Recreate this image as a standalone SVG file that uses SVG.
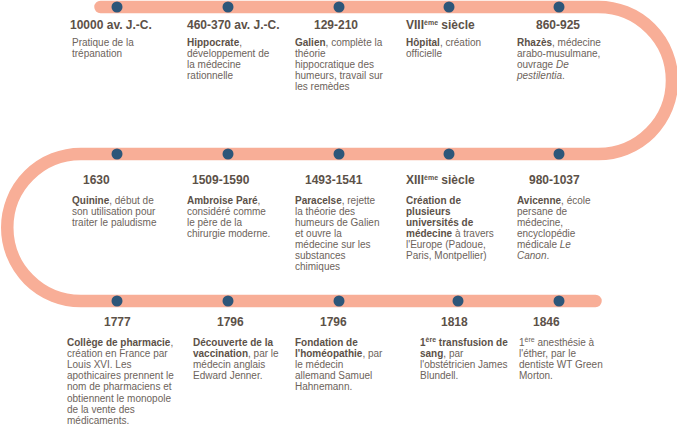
<svg xmlns="http://www.w3.org/2000/svg" width="677" height="433" viewBox="0 0 677 433">
  <style>
    text { font-family: "Liberation Sans", Arial, Helvetica, sans-serif; }
    .date { font-size: 12px; font-weight: bold; fill: #5c5148; }
    .desc { font-size: 10px; fill: #6d635b; }
    .b { font-weight: bold; fill: #5c5148; }
    .i { font-style: italic; }
    .sup { font-size: 7px; }
    .track { fill: none; stroke: #f8ae97; stroke-width: 12.5; stroke-linecap: round; }
    .dot { fill: #2d5679; }
  </style>

  <!-- serpentine timeline band -->
  <g id="connectors">
    <path class="track" d="M100.5 7 H598.5 A73.5 73.5 0 0 1 598.5 154 H80.75 A73.5 73.5 0 0 0 80.75 301 H595.5"/>
  </g>

  <!-- row 1 -->
  <g id="e-10000">
    <circle class="dot" cx="117" cy="7" r="5.5"/>
    <text class="date" x="70" y="29">10000 av. J.-C.</text>
    <text class="desc" x="72" y="46"><tspan x="72">Pratique de la</tspan><tspan x="72" dy="11.1">trépanation</tspan></text>
  </g>
  <g id="e-hippocrate">
    <circle class="dot" cx="228" cy="7" r="5.5"/>
    <text class="date" x="187" y="29">460-370 av. J.-C.</text>
    <text class="desc" x="187" y="46"><tspan x="187"><tspan class="b">Hippocrate</tspan>,</tspan><tspan x="187" dy="11.1">développement de</tspan><tspan x="187" dy="11.1">la médecine</tspan><tspan x="187" dy="11.1">rationnelle</tspan></text>
  </g>
  <g id="e-galien">
    <circle class="dot" cx="339" cy="7" r="5.5"/>
    <text class="date" x="314" y="29">129-210</text>
    <text class="desc" x="295" y="46"><tspan x="295"><tspan class="b">Galien</tspan>, complète la</tspan><tspan x="295" dy="11.1">théorie</tspan><tspan x="295" dy="11.1">hippocratique des</tspan><tspan x="295" dy="11.1">humeurs, travail sur</tspan><tspan x="295" dy="11.1">les remèdes</tspan></text>
  </g>
  <g id="e-hopital">
    <circle class="dot" cx="449" cy="7" r="5.5"/>
    <text class="date" x="406" y="29">VIII<tspan class="sup" dy="-4">ème</tspan><tspan dy="4"> siècle</tspan></text>
    <text class="desc" x="406" y="46"><tspan x="406"><tspan class="b">Hôpital</tspan>, création</tspan><tspan x="406" dy="11.1">officielle</tspan></text>
  </g>
  <g id="e-rhazes">
    <circle class="dot" cx="559" cy="7" r="5.5"/>
    <text class="date" x="536" y="29">860-925</text>
    <text class="desc" x="517" y="46"><tspan x="517"><tspan class="b">Rhazès</tspan>, médecine</tspan><tspan x="517" dy="11.1">arabo-musulmane,</tspan><tspan x="517" dy="11.1">ouvrage <tspan class="i">De</tspan></tspan><tspan x="517" dy="11.1"><tspan class="i">pestilentia</tspan>.</tspan></text>
  </g>

  <!-- row 2 -->
  <g id="e-quinine">
    <circle class="dot" cx="117" cy="154" r="5.5"/>
    <text class="date" x="83" y="184">1630</text>
    <text class="desc" x="72" y="203.5"><tspan x="72"><tspan class="b">Quinine</tspan>, début de</tspan><tspan x="72" dy="11.1">son utilisation pour</tspan><tspan x="72" dy="11.1">traiter le paludisme</tspan></text>
  </g>
  <g id="e-pare">
    <circle class="dot" cx="228" cy="154" r="5.5"/>
    <text class="date" x="192" y="184">1509-1590</text>
    <text class="desc" x="187" y="203.5"><tspan x="187"><tspan class="b">Ambroise Paré</tspan>,</tspan><tspan x="187" dy="11.1">considéré comme</tspan><tspan x="187" dy="11.1">le père de la</tspan><tspan x="187" dy="11.1">chirurgie moderne.</tspan></text>
  </g>
  <g id="e-paracelse">
    <circle class="dot" cx="339" cy="154" r="5.5"/>
    <text class="date" x="305" y="184">1493-1541</text>
    <text class="desc" x="295" y="203.5"><tspan x="295"><tspan class="b">Paracelse</tspan>, rejette</tspan><tspan x="295" dy="11.1">la théorie des</tspan><tspan x="295" dy="11.1">humeurs de Galien</tspan><tspan x="295" dy="11.1">et ouvre la</tspan><tspan x="295" dy="11.1">médecine sur les</tspan><tspan x="295" dy="11.1">substances</tspan><tspan x="295" dy="11.1">chimiques</tspan></text>
  </g>
  <g id="e-universites">
    <circle class="dot" cx="449" cy="154" r="5.5"/>
    <text class="date" x="406" y="184">XIII<tspan class="sup" dy="-4">ème</tspan><tspan dy="4"> siècle</tspan></text>
    <text class="desc" x="406" y="203.5"><tspan x="406" class="b">Création de</tspan><tspan x="406" dy="11.1" class="b">plusieurs</tspan><tspan x="406" dy="11.1" class="b">universités de</tspan><tspan x="406" dy="11.1"><tspan class="b">médecine</tspan> à travers</tspan><tspan x="406" dy="11.1">l'Europe (Padoue,</tspan><tspan x="406" dy="11.1">Paris, Montpellier)</tspan></text>
  </g>
  <g id="e-avicenne">
    <circle class="dot" cx="559" cy="154" r="5.5"/>
    <text class="date" x="529" y="184">980-1037</text>
    <text class="desc" x="517" y="203.5"><tspan x="517"><tspan class="b">Avicenne</tspan>, école</tspan><tspan x="517" dy="11.1">persane de</tspan><tspan x="517" dy="11.1">médecine,</tspan><tspan x="517" dy="11.1">encyclopédie</tspan><tspan x="517" dy="11.1">médicale <tspan class="i">Le</tspan></tspan><tspan x="517" dy="11.1"><tspan class="i">Canon</tspan>.</tspan></text>
  </g>

  <!-- row 3 -->
  <g id="e-pharmacie">
    <circle class="dot" cx="117" cy="301" r="5.5"/>
    <text class="date" x="104" y="326">1777</text>
    <text class="desc" x="67" y="345.5"><tspan x="67"><tspan class="b">Collège de pharmacie</tspan>,</tspan><tspan x="67" dy="11.2">création en France par</tspan><tspan x="67" dy="11.2">Louis XVI. Les</tspan><tspan x="67" dy="11.2">apothicaires prennent le</tspan><tspan x="67" dy="11.2">nom de pharmaciens et</tspan><tspan x="67" dy="11.2">obtiennent le monopole</tspan><tspan x="67" dy="11.2">de la vente des</tspan><tspan x="67" dy="11.2">médicaments.</tspan></text>
  </g>
  <g id="e-vaccination">
    <circle class="dot" cx="228" cy="301" r="5.5"/>
    <text class="date" x="217" y="326">1796</text>
    <text class="desc" x="193" y="345.5"><tspan x="193" class="b">Découverte de la</tspan><tspan x="193" dy="11.2"><tspan class="b">vaccination</tspan>, par le</tspan><tspan x="193" dy="11.2">médecin anglais</tspan><tspan x="193" dy="11.2">Edward Jenner.</tspan></text>
  </g>
  <g id="e-homeopathie">
    <circle class="dot" cx="339" cy="301" r="5.5"/>
    <text class="date" x="320" y="326">1796</text>
    <text class="desc" x="295" y="345.5"><tspan x="295" class="b">Fondation de</tspan><tspan x="295" dy="11.2"><tspan class="b">l'homéopathie</tspan>, par</tspan><tspan x="295" dy="11.2">le médecin</tspan><tspan x="295" dy="11.2">allemand Samuel</tspan><tspan x="295" dy="11.2">Hahnemann.</tspan></text>
  </g>
  <g id="e-transfusion">
    <circle class="dot" cx="458" cy="301" r="5.5"/>
    <text class="date" x="441" y="326">1818</text>
    <text class="desc" x="420" y="345.5"><tspan x="420" class="b">1<tspan class="sup" dy="-3.5">ère</tspan><tspan dy="3.5"> transfusion de</tspan></tspan><tspan x="420" dy="11.2"><tspan class="b">sang</tspan>, par</tspan><tspan x="420" dy="11.2">l'obstétricien James</tspan><tspan x="420" dy="11.2">Blundell.</tspan></text>
  </g>
  <g id="e-anesthesie">
    <circle class="dot" cx="559" cy="301" r="5.5"/>
    <text class="date" x="533" y="326">1846</text>
    <text class="desc" x="519" y="345.5"><tspan x="519">1<tspan class="sup" dy="-3.5">ère</tspan><tspan dy="3.5"> anesthésie à</tspan></tspan><tspan x="519" dy="11.2">l'éther, par le</tspan><tspan x="519" dy="11.2">dentiste WT Green</tspan><tspan x="519" dy="11.2">Morton.</tspan></text>
  </g>
</svg>
